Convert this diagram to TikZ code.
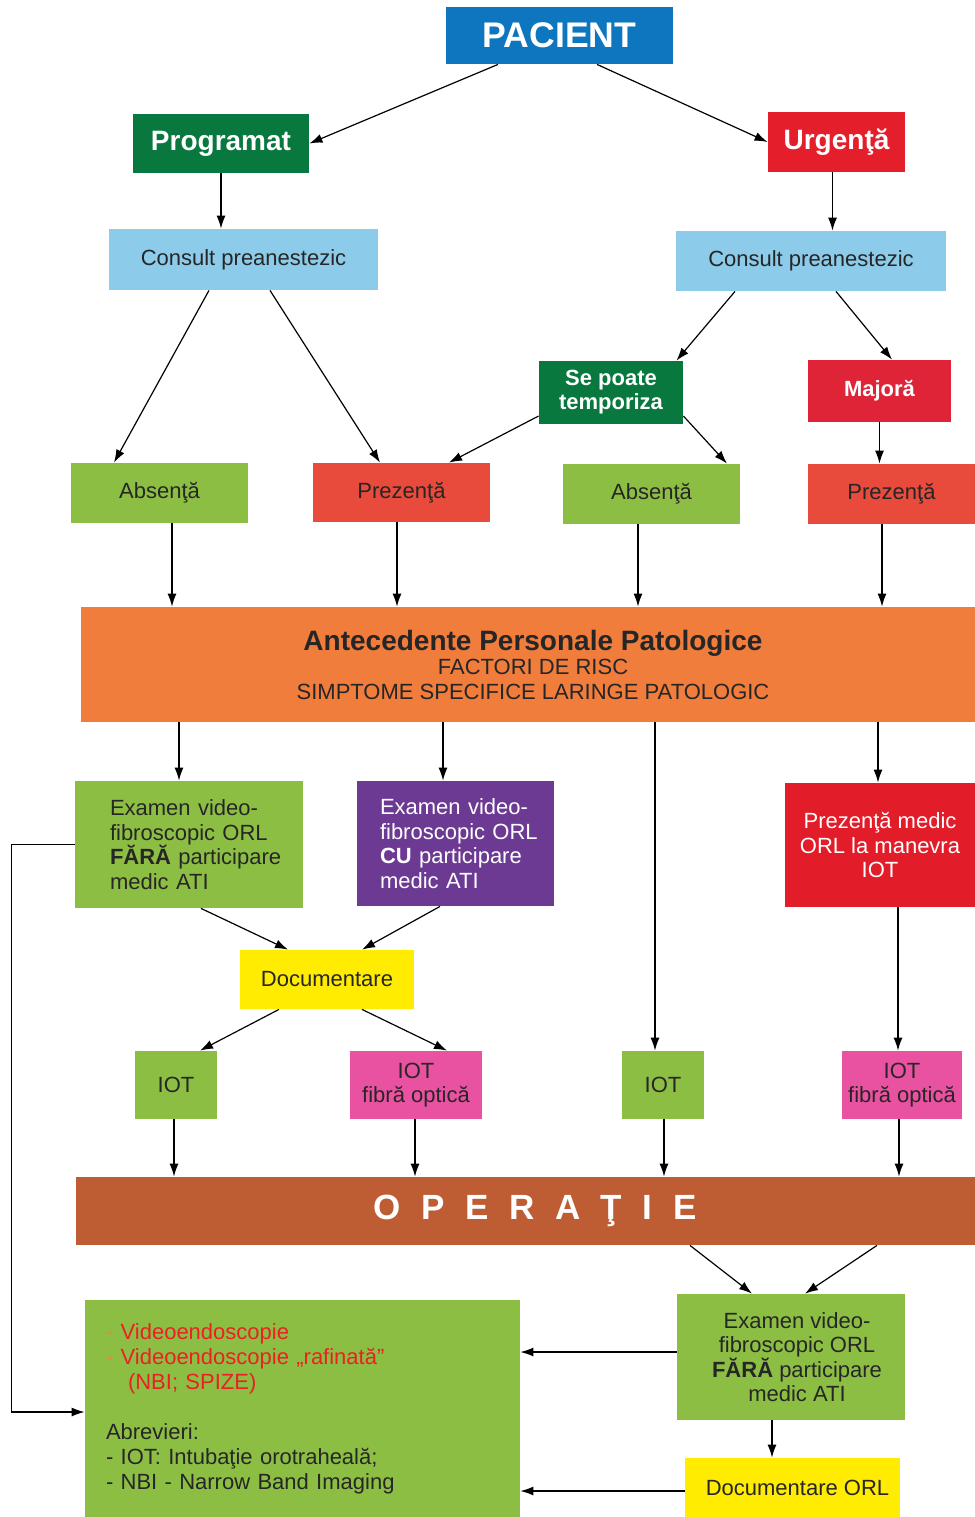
\documentclass[tikz,border=0pt]{standalone}
\usepackage{fontspec}
\setmainfont{Liberation Sans}
\usepackage{tikz}
\usetikzlibrary{arrows.meta}

\definecolor{pacblue}{RGB}{14,118,190}
\definecolor{darkgreen}{RGB}{8,120,62}
\definecolor{urgred}{RGB}{228,30,42}
\definecolor{lightblue}{RGB}{140,204,234}
\definecolor{majred}{RGB}{224,36,56}
\definecolor{leafgreen}{RGB}{141,190,68}
\definecolor{coral}{RGB}{232,74,60}
\definecolor{bandorange}{RGB}{240,125,60}
\definecolor{atipurple}{RGB}{108,58,146}
\definecolor{pmred}{RGB}{226,28,40}
\definecolor{docyellow}{RGB}{255,236,0}
\definecolor{fopink}{RGB}{232,82,160}
\definecolor{opbrown}{RGB}{190,92,52}
\definecolor{redtext}{RGB}{236,32,36}
\definecolor{dashorange}{RGB}{244,130,70}

\tikzset{
  box/.style={inner sep=0pt, align=center, text=black!85, font=\fontsize{11}{12.25}\selectfont},
  title/.style={text=white, font=\fontsize{14}{16}\selectfont\bfseries},
  arr/.style={-{Latex[length=6.5pt,width=4.5pt]}, line width=0.6pt},
}

\begin{document}
\begin{tikzpicture}[x=0.5pt,y=-0.5pt]
    \useasboundingbox (0,0) rectangle (975,1517);
    % Draw the top boxes
    \node[box, fill=pacblue, text=white, minimum width=113.5pt, minimum height=28.5pt, font=\fontsize{17.8}{20}\selectfont\bfseries] (pac) at (559.5,35.5) {PACIENT};
    \node[box, title, fill=darkgreen, minimum width=88pt, minimum height=29.5pt] (prog) at (221,143.5) {Programat};
    \node[box, title, fill=urgred, minimum width=68.5pt, minimum height=30pt] (urg) at (836.5,142) {Urgenţă};
    \node[box, fill=lightblue, minimum width=134.5pt, minimum height=30.5pt] (conL) at (243.5,259.5) {Consult preanestezic};
    \node[box, fill=lightblue, minimum width=135pt, minimum height=30pt] (conR) at (811,261) {Consult preanestezic};
    \node[box, fill=darkgreen, text=white, font=\fontsize{11}{12}\selectfont\bfseries, minimum width=72pt, minimum height=31.5pt] (sep) at (611,392.5) {Se poate\\temporiza};
    \node[box, fill=majred, text=white, font=\fontsize{11}{12}\selectfont\bfseries, minimum width=71.5pt, minimum height=31pt] (maj) at (879.5,391) {Majoră};
    % Draw the row of Absenta / Prezenta
    \node[box, fill=leafgreen, minimum width=88.5pt, minimum height=30pt] (absL) at (159.5,493) {Absenţă};
    \node[box, fill=coral, minimum width=88.5pt, minimum height=29.5pt] (prezL) at (401.5,492.5) {Prezenţă};
    \node[box, fill=leafgreen, minimum width=88.5pt, minimum height=30pt] (absR) at (651.5,494) {Absenţă};
    \node[box, fill=coral, minimum width=83.5pt, minimum height=30pt] (prezR) at (891.5,494) {Prezenţă};
    \node[box, fill=bandorange, minimum width=447pt, minimum height=57.5pt] (ant) at (528,664.5) {{\fontsize{14}{14}\selectfont\bfseries \hspace*{5pt}Antecedente Personale Patologice}\\\hspace*{5pt}FACTORI DE RISC\\\hspace*{5pt}SIMPTOME SPECIFICE LARINGE PATOLOGIC};
    % Draw the examination boxes
    \node[box, fill=leafgreen, align=left, text width=79pt, minimum width=114pt, minimum height=63.5pt] (exL) at (189,844.5) {Examen video-\\\mbox{fibroscopic ORL}\\\mbox{\textbf{FĂRĂ} participare}\\medic ATI};
    \node[box, fill=atipurple, text=white, align=left, text width=75.5pt, minimum width=98.5pt, minimum height=62.5pt] (exP) at (455.5,843.5) {Examen video-\\\mbox{fibroscopic ORL}\\\mbox{\textbf{CU} participare}\\medic ATI};
    \node[box, fill=pmred, text=white, minimum width=95pt, minimum height=62pt] (pm) at (880,845) {Prezenţă medic\\ORL la manevra\\IOT};
    \node[box, fill=docyellow, minimum width=87pt, minimum height=29.5pt] (doc) at (327,979.5) {Documentare};
    % Draw the intubation boxes
    \node[box, fill=leafgreen, minimum width=41pt, minimum height=34pt] (iot1) at (176,1085) {IOT};
    \node[box, fill=fopink, minimum width=66pt, minimum height=34pt] (fo1) at (416,1085) {IOT\\fibră optică};
    \node[box, fill=leafgreen, minimum width=41pt, minimum height=34pt] (iot2) at (663,1085) {IOT};
    \node[box, fill=fopink, minimum width=60pt, minimum height=34pt] (fo2) at (902,1085) {IOT\\fibră optică};
    \node[box, fill=opbrown, text=white, font=\fontsize{17.5}{20}\selectfont\bfseries, minimum width=449.5pt, minimum height=34pt] (op) at (525.5,1211) {\hspace*{9.5pt}O\kern10.3pt P\kern10.3pt E\kern10.3pt R\kern10.3pt A\kern10.3pt Ţ\kern10.3pt I\kern10.3pt E};
    % Draw the bottom boxes
    \node[box, fill=leafgreen, align=left, text width=196.5pt, minimum width=217.5pt, minimum height=108.5pt, font=\fontsize{11}{12.5}\selectfont] (nota) at (302.5,1408.5) {{\color{dashorange}-} {\color{redtext}Videoendoscopie}\\{\color{dashorange}-} {\color{redtext}Videoendoscopie „rafinată”}\\\hspace*{11pt}{\color{redtext}(NBI; SPIZE)}\\[12.5pt]Abrevieri:\\- IOT: Intubaţie orotraheală;\\- NBI - Narrow Band Imaging};
    \node[box, fill=leafgreen, minimum width=114pt, minimum height=63pt] (exBR) at (791,1357) {\hspace*{6pt}Examen video-\\\hspace*{6pt}fibroscopic ORL\\\hspace*{6pt}\textbf{FĂRĂ} participare\\\hspace*{6pt}medic ATI};
    \node[box, fill=docyellow, minimum width=107.5pt, minimum height=29.5pt] (docORL) at (792.5,1487.5) {\hspace*{5pt}Documentare ORL};
    % Draw the arrows from the top
    \draw[arr] ([xshift=-30.75pt]pac.south) -- (prog.east);
    \draw[arr] ([xshift=18.75pt]pac.south) -- (urg.west);
    \draw[arr] (prog.south) -- (prog.south |- conL.north);
    \draw[arr] ([xshift=-2pt]urg.south) -- ([xshift=-2pt]urg.south |- conR.north);
    \draw[arr] ([xshift=-17.25pt]conL.south) -- ([xshift=-22.75pt]absL.north);
    \draw[arr] ([xshift=13.25pt]conL.south) -- ([xshift=-10.75pt]prezL.north);
    \draw[arr] ([xshift=-38pt]conR.south) -- ([xshift=-3.5pt]sep.north east);
    \draw[arr] ([xshift=12.5pt]conR.south) -- ([xshift=6.25pt]maj.north);
    \draw[arr] ([yshift=-11.75pt]sep.west) -- ([xshift=23.75pt]prezL.north);
    \draw[arr] ([yshift=-11.75pt]sep.east) -- ([xshift=37.75pt]absR.north);
    \draw[arr] (maj.south) -- (maj.south |- prezR.north);
    % Draw the arrows into and out of the band
    \foreach \n/\s in {absL/6.25pt, prezL/-2.25pt, absR/-6.75pt, prezR/-4.75pt}{
      \draw[arr] ([xshift=\s]\n.south) -- ([xshift=\s]\n.south |- ant.north);
    }
    \foreach \n/\s in {exL/-5pt, exP/-6.25pt, iot2/-4pt, pm/-1pt}{
      \draw[arr] ([xshift=\s]\n.north |- ant.south) -- ([xshift=\s]\n.north);
    }
    \draw[arr] ([xshift=6pt]exL.south) -- ([xshift=-19.5pt]doc.north);
    \draw[arr] ([xshift=-7.75pt]exP.south) -- ([xshift=17.5pt]doc.north);
    \draw[arr] ([xshift=-24pt]doc.south) -- ([xshift=12pt]iot1.north);
    \draw[arr] ([xshift=17.5pt]doc.south) -- ([xshift=15.5pt]fo1.north);
    \draw[arr] ([xshift=-2pt]fo2.north |- pm.south) -- ([xshift=-2pt]fo2.north);
    % Draw the arrows into the operation
    \foreach \n/\s in {iot1/-1pt, fo1/-0.5pt, iot2/0.5pt, fo2/-1.5pt}{
      \draw[arr] ([xshift=\s]\n.south) -- ([xshift=\s]\n.south |- op.north);
    }
    \draw[arr] ([xshift=82.25pt]op.south) -- ([xshift=-19.5pt]exBR.north);
    \draw[arr] ([xshift=175.75pt]op.south) -- ([xshift=7pt]exBR.north);
    \draw[arr] ([yshift=2.5pt]exBR.west) -- ([yshift=2.5pt]exBR.west -| nota.east);
    \draw[arr] ([xshift=-9.5pt]exBR.south) -- ([xshift=-9.5pt]exBR.south |- docORL.north);
    \draw[arr] ([yshift=-1.75pt]docORL.west) -- ([yshift=-1.75pt]docORL.west -| nota.east);
    \draw[arr] (exL.west) -- ++(-31.5pt,0) |- ([yshift=-1.75pt]nota.west);
\end{tikzpicture}
\end{document}
